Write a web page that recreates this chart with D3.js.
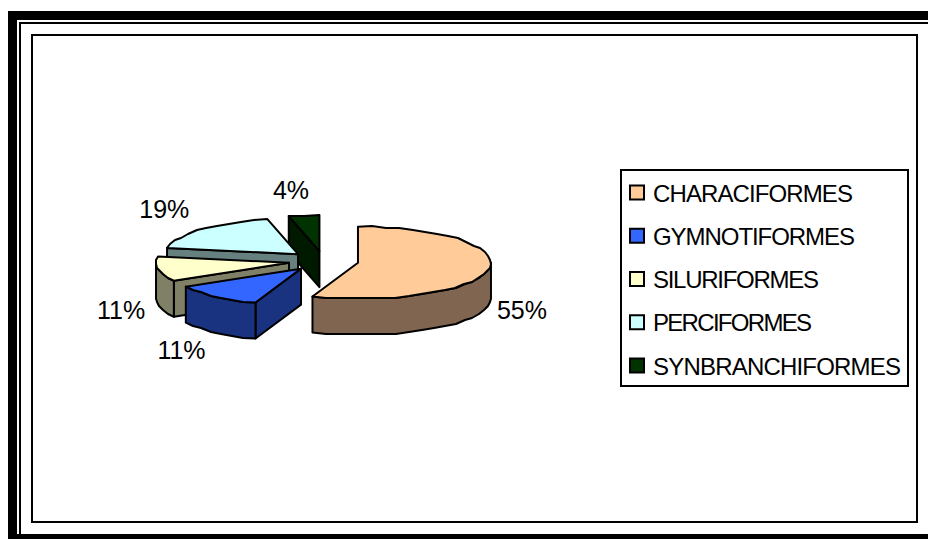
<!DOCTYPE html>
<html><head><meta charset="utf-8">
<script src="https://cdn.jsdelivr.net/npm/d3@7"></script>
<style>html,body{margin:0;padding:0;background:#fff}svg{display:block}text{font-family:"Liberation Sans",Arial,sans-serif;fill:#000}</style>
</head><body><svg id="c" width="928" height="539"></svg>
<script>
const categories=["CHARACIFORMES","GYMNOTIFORMES","SILURIFORMES","PERCIFORMES","SYNBRANCHIFORMES"];
const values=[55.5,11.1,11.1,18.5,3.7];
const labels=["55%","11%","11%","19%","4%"];
const topColors=["#FFCC99","#3366FF","#FFFFCC","#CCFFFF","#003300"];
const wallColors=["#806650","#1A3380","#808066","#668080","#001A00"];
// layout
const cx=323.5,cy=261,rx=133,ry=36,depth=36,explodeX=35,explodeY=10;
const labelNudge=[[33,41],[-34,54],[-37,41],[-37,-20],[-13,-25]];
const legendTextWidths=[200,202,166,159,248];

const svg=d3.select("#c");
const rect=(x,y,w,h,o={})=>svg.append("rect").attr("x",x).attr("y",y).attr("width",w).attr("height",h).attr("fill",o.fill||"#000").attr("stroke",o.stroke||"none").attr("stroke-width",o.sw||0);
// page frame
rect(8,11,920,528);
rect(17,20,911,514,{fill:"#fff"});
rect(19,22,909,512);
rect(21,24,907,510,{fill:"#fff"});
rect(32,35,885,487,{fill:"#fff",stroke:"#000",sw:2});

const arcs=d3.pie().sort(null).value(d=>d)(values);
const line=d3.line();
const snap=v=>Math.round(v/2)*2;
const rimPoint=(a,ox,oy,rough)=>{
  const x=ox+rx*Math.sin(a),y=oy-ry*Math.cos(a);
  return rough?[Math.round(x),snap(y)]:[x,y];
};
const rimPath=(a0,a1,ox,oy)=>{
  const n=Math.max(1,Math.round((a1-a0)/(Math.PI/30)));
  return d3.range(n+1).map(i=>rimPoint(a0+(a1-a0)*i/n,ox,oy,i>0&&i<n));
};
const face=(pts,fill)=>svg.append("path").attr("d",line(pts)+"Z").attr("fill",fill).attr("stroke","#000").attr("stroke-width",2).attr("stroke-linejoin","round");
const down=p=>[p[0],p[1]+depth];

// back-to-front painter's order
const order=[4,3,2,1,0];
order.forEach(i=>{
  const d=arcs[i],m=(d.startAngle+d.endAngle)/2;
  const ox=cx+explodeX*Math.sin(m),oy=cy-explodeY*Math.cos(m),apex=[ox,oy];
  const s=rimPoint(d.startAngle,ox,oy),e=rimPoint(d.endAngle,ox,oy);
  // a cut face shows only when its outward normal points towards the viewer
  if(Math.sin(d.startAngle)<-1e-6)face([apex,s,down(s),down(apex)],wallColors[i]);
  if(Math.sin(d.endAngle)>1e-6)face([apex,e,down(e),down(apex)],wallColors[i]);
  // front part of the outer wall: from 90° to 270°
  const a0=Math.max(d.startAngle,Math.PI/2),a1=Math.min(d.endAngle,Math.PI*1.5);
  if(a1>a0){const r=rimPath(a0,a1,ox,oy);face(r.concat(r.map(down).reverse()),wallColors[i]);}
  face([apex].concat(rimPath(d.startAngle,d.endAngle,ox,oy)),topColors[i]);
});

// data labels
arcs.forEach((d,i)=>{
  const m=(d.startAngle+d.endAngle)/2;
  const ox=cx+explodeX*Math.sin(m),oy=cy-explodeY*Math.cos(m);
  const p=rimPoint(m,ox,oy);
  svg.append("text").attr("x",p[0]+labelNudge[i][0]).attr("y",p[1]+labelNudge[i][1]).attr("text-anchor","middle").attr("dominant-baseline","central").attr("font-size",25).text(labels[i]);
});

// legend
rect(621,170,287,216,{fill:"#fff",stroke:"#000",sw:2});
const rowY=d3.scalePoint().domain(categories).range([192.5,365.5]);
categories.forEach((c,i)=>{
  const y=rowY(c);
  rect(630,y-7,14,14,{fill:topColors[i],stroke:"#000",sw:2});
  svg.append("text").attr("x",653).attr("y",y+9).attr("font-size",24).attr("textLength",legendTextWidths[i]).attr("lengthAdjust","spacing").text(c);
});
</script></body></html>
